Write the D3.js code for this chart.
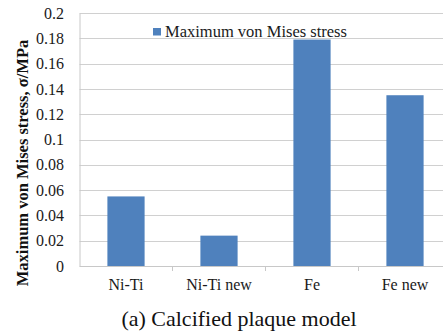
<!DOCTYPE html>
<html>
<head>
<meta charset="utf-8">
<script src="https://cdn.jsdelivr.net/npm/d3@7"></script>
<style>
  html, body { margin: 0; padding: 0; background: #fff; overflow: hidden; }
  svg { display: block; }
</style>
</head>
<body>
<svg id="chart" width="443" height="335"></svg>
<script>
// Chart data
const categories = ["Ni-Ti", "Ni-Ti new", "Fe", "Fe new"];
const stressValues = [0.055, 0.024, 0.179, 0.135];
const yTicks = [0, 0.02, 0.04, 0.06, 0.08, 0.1, 0.12, 0.14, 0.16, 0.18, 0.2];
const seriesName = "Maximum von Mises stress";
const yTitle = "Maximum von Mises stress, σ/MPa";
const caption = "(a) Calcified plaque model";

const FONT = '"Liberation Serif"';

const svg = d3.select("#chart");

const plot = { left: 79.5, right: 451.5, top: 13, bottom: 266 };

const x = d3.scaleBand()
  .domain(categories)
  .range([plot.left, plot.right])
  .paddingInner(0.6)
  .paddingOuter(0.3);

const y = d3.scaleLinear().domain([0, 0.2]).range([plot.bottom, plot.top]);

// Horizontal gridlines
svg.append("g")
  .selectAll("line")
  .data(yTicks.filter(d => d > 0))
  .join("line")
  .attr("x1", plot.left)
  .attr("x2", plot.right)
  .attr("y1", d => Math.round(y(d)) + 0.5)
  .attr("y2", d => Math.round(y(d)) + 0.5)
  .attr("stroke", "#d0d0d0")
  .attr("stroke-width", 1);

// Bars
svg.append("g")
  .selectAll("rect")
  .data(categories.map((c, i) => ({ c, v: stressValues[i] })))
  .join("rect")
  .attr("x", d => x(d.c))
  .attr("width", x.bandwidth())
  .attr("y", d => y(d.v))
  .attr("height", d => y(0) - y(d.v))
  .attr("fill", "#4f81bd");

// Y axis
const yAxis = svg.append("g")
  .attr("transform", `translate(${plot.left},0)`)
  .call(d3.axisLeft(y).tickValues(yTicks).tickSize(0).tickPadding(15.5)
    .tickFormat(d => d3.format("")(+d.toFixed(2))));
yAxis.select(".domain").attr("stroke", "#c8c8c8");
yAxis.selectAll("text")
  .style("font-family", FONT)
  .style("font-size", "16px")
  .attr("fill", "#1a1a1a");

// X axis with tick marks at band boundaries
const step = x.step();
const boundaries = d3.range(1, categories.length).map(i => plot.left + i * step);
const xAxisG = svg.append("g");
xAxisG.append("line")
  .attr("x1", plot.left).attr("x2", plot.right)
  .attr("y1", plot.bottom + 0.5).attr("y2", plot.bottom + 0.5)
  .attr("stroke", "#c8c8c8");
xAxisG.selectAll("line.tick")
  .data(boundaries)
  .join("line")
  .attr("class", "tick")
  .attr("x1", d => d).attr("x2", d => d)
  .attr("y1", plot.bottom).attr("y2", plot.bottom + 5)
  .attr("stroke", "#c8c8c8");

const xAxis = svg.append("g")
  .attr("transform", `translate(0,${plot.bottom})`)
  .call(d3.axisBottom(x).tickSize(0).tickPadding(12.5))
  .call(g => g.select(".domain").remove());
xAxis.selectAll("text")
  .style("font-family", FONT)
  .style("font-size", "16px")
  .attr("fill", "#1a1a1a");

// Legend
const legend = svg.append("g").attr("transform", "translate(153,28)");
legend.append("rect").attr("width", 8).attr("height", 7.5).attr("fill", "#4f81bd");
legend.append("text")
  .attr("x", 12).attr("y", 8.5)
  .style("font-family", FONT)
  .style("font-size", "16.5px")
  .attr("fill", "#1a1a1a")
  .text(seriesName);

// Y axis title
svg.append("text")
  .attr("transform", "translate(28,163) rotate(-90)")
  .attr("text-anchor", "middle")
  .style("font-family", FONT)
  .style("font-weight", "bold")
  .style("font-size", "16.5px")
  .attr("fill", "#111")
  .text(yTitle);

// Caption
svg.append("text")
  .attr("x", 239)
  .attr("y", 326)
  .attr("text-anchor", "middle")
  .style("font-family", FONT)
  .style("font-size", "22px")
  .attr("fill", "#111")
  .text(caption);
</script>
</body>
</html>
